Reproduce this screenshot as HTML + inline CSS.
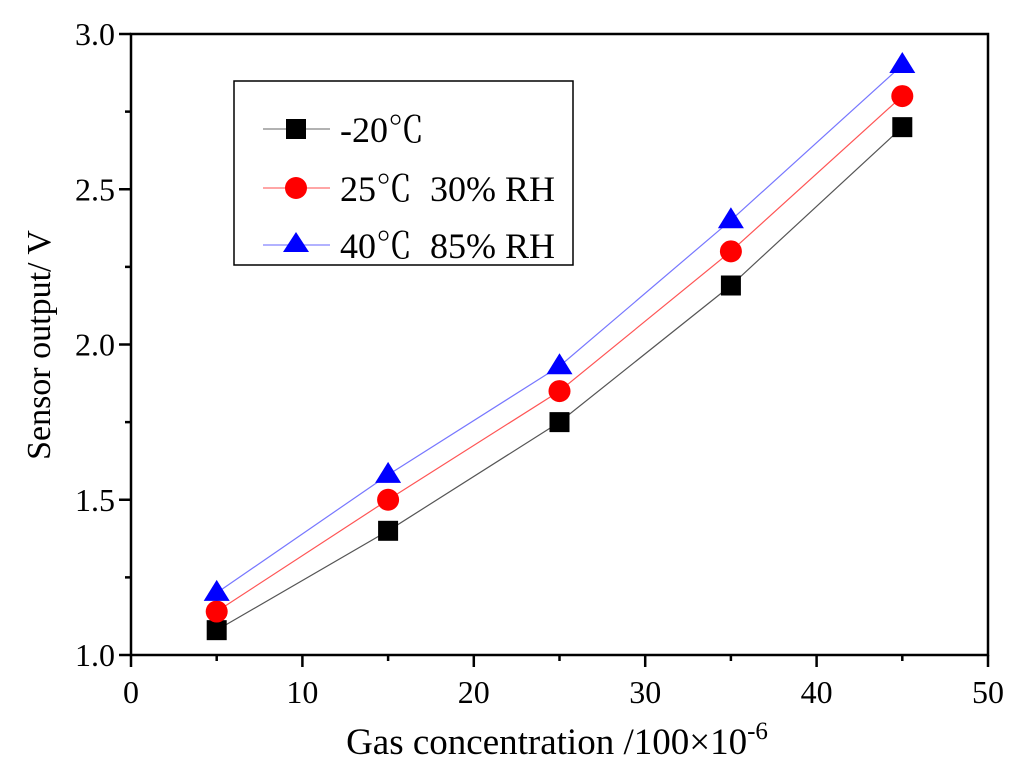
<!DOCTYPE html>
<html><head><meta charset="utf-8"><style>
body{margin:0;background:#fff}
svg{display:block;font-family:"Liberation Serif","Noto Serif CJK SC",serif}
.lg{white-space:pre}
</style></head><body>
<svg id="chart" width="1024" height="774" xmlns="http://www.w3.org/2000/svg">
<rect width="1024" height="774" fill="#fff"/>
<g id="axes"></g>
<g id="series"></g>
<g>
<rect x="234" y="81" width="339" height="184" fill="#fff" stroke="#000" stroke-width="1.5"/>
<line x1="263" y1="129" x2="330" y2="129" stroke="#999" stroke-width="1.5"/>
<rect x="286" y="119" width="20" height="20" fill="#000"/>
<text class="lg" x="340" y="142" font-size="36">-20℃</text>
<line x1="263" y1="188" x2="330" y2="188" stroke="#f88" stroke-width="1.5"/>
<circle cx="296" cy="188" r="11" fill="#f00"/>
<text class="lg" x="340" y="201" font-size="36">25℃  30% RH</text>
<line x1="263" y1="245" x2="330" y2="245" stroke="#99f" stroke-width="1.5"/>
<polygon points="296,232 283,252 309,252" fill="#00f"/>
<text class="lg" x="340" y="258" font-size="36">40℃  85% RH</text>
</g>
<text x="557" y="754" font-size="37" text-anchor="middle">Gas concentration /100×10<tspan font-size="25" dy="-15">-6</tspan></text>
<text transform="translate(50,345) rotate(-90)" font-size="34" text-anchor="middle">Sensor output/ V</text>
</svg>
<script>
const xCats=[5,15,25,35,45];
const s1=[1.08,1.40,1.75,2.19,2.70];
const s2=[1.14,1.50,1.85,2.30,2.80];
const s3=[1.20,1.58,1.93,2.40,2.90];
const xTicks=[0,10,20,30,40,50];
const yTicks=[1.0,1.5,2.0,2.5,3.0];
const NS="http://www.w3.org/2000/svg";
const L=131,R=988,T=34,B=655;
const X=v=>L+(v-0)/50*(R-L);
const Y=v=>B-(v-1)/2*(B-T);
function mk(tag,at,p){const e=document.createElementNS(NS,tag);for(const k in at)e.setAttribute(k,at[k]);p.appendChild(e);return e;}
const ax=document.getElementById('axes');
const frame=mk('rect',{x:L,y:T,width:R-L,height:B-T,fill:'none',stroke:'#000','stroke-width':2.5},ax);


for(let i=0;i<xTicks.length;i++){const v=xTicks[i];
 mk('line',{x1:X(v),y1:B,x2:X(v),y2:B+12,stroke:'#000','stroke-width':2.5},ax);
 if(i<xTicks.length-1)mk('line',{x1:X(v+5),y1:B,x2:X(v+5),y2:B+6,stroke:'#000','stroke-width':2.5},ax);
 const t=mk('text',{x:X(v),y:B+48,'font-size':32,'text-anchor':'middle'},ax);t.textContent=v;
 
 
}
for(let i=0;i<yTicks.length;i++){const v=yTicks[i];
 mk('line',{x1:L,y1:Y(v),x2:L-12,y2:Y(v),stroke:'#000','stroke-width':2.5},ax);
 if(i<yTicks.length-1)mk('line',{x1:L,y1:Y(v+0.25),x2:L-6,y2:Y(v+0.25),stroke:'#000','stroke-width':2.5},ax);
 const t=mk('text',{x:L-16,y:Y(v)+11,'font-size':32,'text-anchor':'end'},ax);t.textContent=v.toFixed(1);
 
 
}
const sg=document.getElementById('series');
function series(vals,lc,name,marker){
 const g=mk('g',{},sg);
 
 
 mk('polyline',{points:vals.map((v,i)=>X(xCats[i])+','+Y(v)).join(' '),fill:'none',stroke:lc,'stroke-width':1.2},g);
 vals.forEach((v,i)=>{const x=X(xCats[i]),y=Y(v);let m;
  if(marker==='sq')m=mk('rect',{x:x-10,y:y-10,width:20,height:20,fill:'#000'},g);
  else if(marker==='c')m=mk('circle',{cx:x,cy:y,r:11,fill:'#f00'},g);
  else m=mk('polygon',{points:`${x},${y-13} ${x-13},${y+8} ${x+13},${y+8}`,fill:'#00f'},g);
  
  
 });
}
series(s1,'#555','series-minus20c','sq');
series(s2,'#f55','series-25c-30rh','c');
series(s3,'#77f','series-40c-85rh','t');
</script>
</body></html>
